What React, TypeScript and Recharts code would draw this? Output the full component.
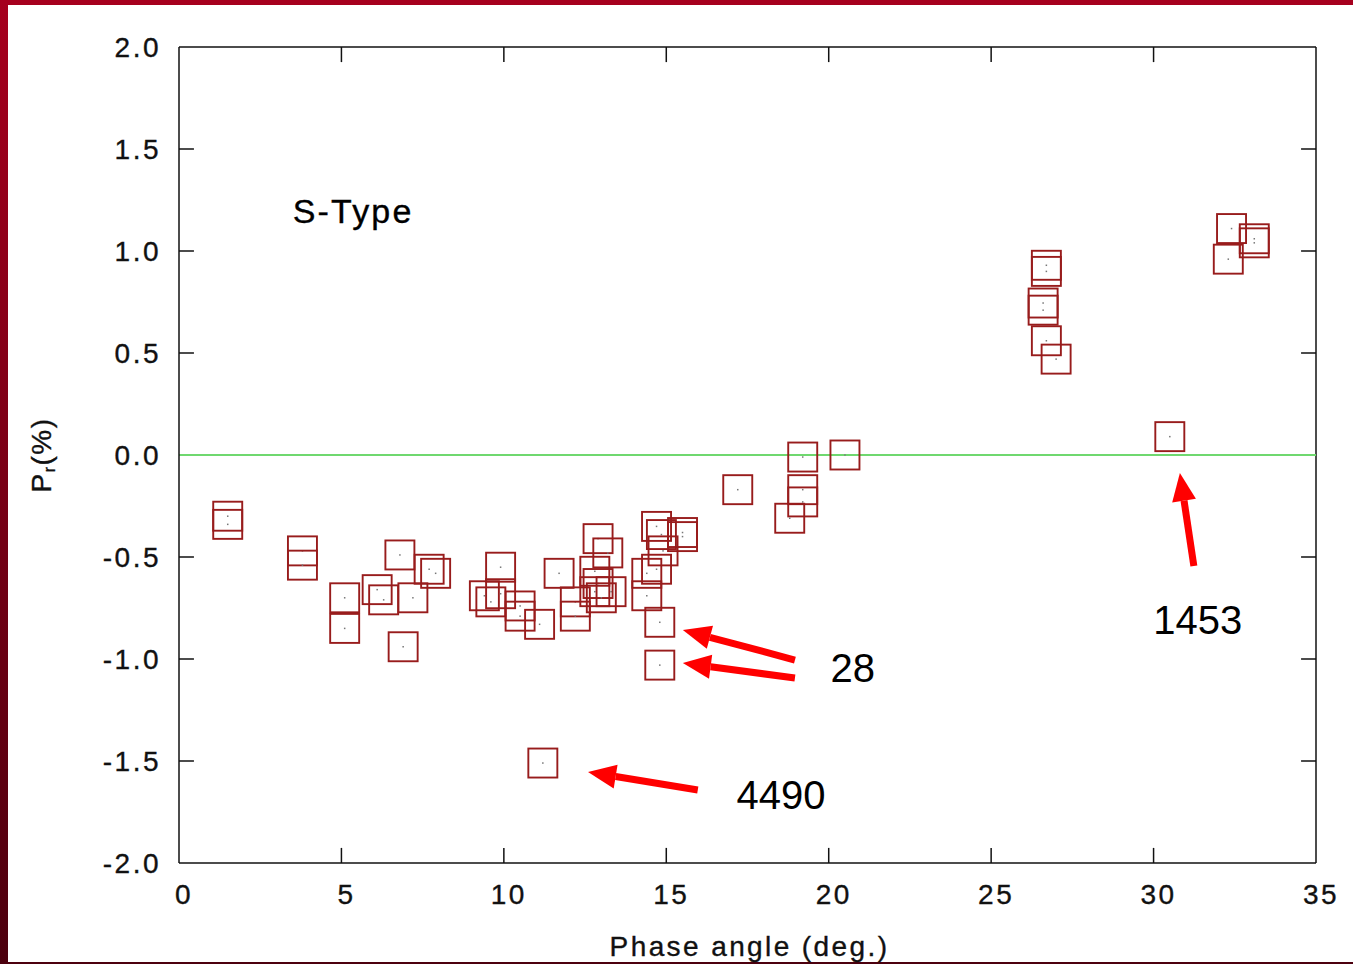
import React from 'react';
import {
  ScatterChart,
  Scatter,
  XAxis,
  YAxis,
  ReferenceLine,
  ReferenceDot,
} from 'recharts';

// S-type asteroids: phase angle (deg) vs Pr (%)
const phaseAngle = [
  1.5, 1.5, 3.8, 3.8, 5.1, 5.1, 6.8, 6.1, 6.3, 7.2, 6.9, 7.7, 7.9,
  9.4, 9.6, 9.9, 9.9, 10.5, 10.5, 11.1, 11.7, 12.2, 12.2,
  12.9, 13.2, 12.8, 12.8, 13.3, 12.9, 13.0, 14.4, 14.4,
  14.7, 14.85, 15.5, 15.5, 14.7, 14.9, 14.8, 14.8, 11.2,
  17.2, 19.2, 20.5, 19.2, 19.2, 18.8,
  26.7, 26.7, 26.6, 26.6, 26.7, 27.0,
  32.4, 32.3, 33.1, 33.1, 30.5,
];
const polarization = [
  -0.3, -0.34, -0.47, -0.54, -0.7, -0.85, -0.49, -0.66, -0.71, -0.7, -0.94, -0.56, -0.58,
  -0.69, -0.72, -0.68, -0.55, -0.74, -0.79, -0.83, -0.58, -0.72, -0.79,
  -0.41, -0.48, -0.57, -0.67, -0.67, -0.63, -0.7, -0.58, -0.69,
  -0.35, -0.39, -0.4, -0.38, -0.56, -0.47, -0.82, -1.03, -1.51,
  -0.17, -0.01, 0.0, -0.17, -0.23, -0.31,
  0.93, 0.9, 0.745, 0.71, 0.56, 0.47,
  1.11, 0.96, 1.06, 1.04, 0.09,
];

const xTicks = [0, 5, 10, 15, 20, 25, 30, 35];
const yTicks = [-2.0, -1.5, -1.0, -0.5, 0.0, 0.5, 1.0, 1.5, 2.0];

// annotations: arrow tail -> head, plus label text and position
const arrowTails = [
  { x: 18.96, y: -1.005 },
  { x: 18.96, y: -1.093 },
  { x: 15.97, y: -1.642 },
  { x: 31.24, y: -0.544 },
];
const arrowHeads = [
  { x: 15.51, y: -0.858 },
  { x: 15.51, y: -1.02 },
  { x: 12.59, y: -1.554 },
  { x: 30.81, y: -0.088 },
];
const labelText = ['28', '4490', '1453'];
const labelX = [20.74, 18.53, 31.36];
const labelY = [-1.044, -1.667, -0.809];

const data = phaseAngle.map((x, i) => ({ x, y: polarization[i] }));

const X_MIN = 0;
const X_MAX = 35;
const Y_MIN = -2;
const Y_MAX = 2;
// inner tick length in data units (~15px)
const X_TICK_LEN = 0.46;
const Y_TICK_LEN = 0.074;

const BOX = '#981c1c';
const FRAME = '#111';
const FONT = 'Liberation Sans';
const tickFont = {
  fontFamily: FONT,
  fontSize: 28,
  fill: '#111',
  stroke: '#111',
  strokeWidth: 0.35,
  letterSpacing: 2.5,
};

function SquareMarker(props: any) {
  const { cx, cy } = props;
  if (cx == null || cy == null) return null;
  return (
    <g>
      <rect x={cx - 14.5} y={cy - 14.5} width={29} height={29} fill="none" stroke={BOX} strokeWidth={1.9} />
      <rect x={cx - 0.75} y={cy - 0.75} width={1.5} height={1.5} fill="#777" />
    </g>
  );
}

function Arrow(props: any) {
  const { x1, y1, x2, y2 } = props;
  if (x1 == null) return null;
  const dx = x2 - x1;
  const dy = y2 - y1;
  const len = Math.sqrt(dx * dx + dy * dy);
  const ux = dx / len;
  const uy = dy / len;
  const headLen = 28;
  const headW = 12;
  const bx = x2 - ux * headLen;
  const by = y2 - uy * headLen;
  return (
    <g>
      <line x1={x1} y1={y1} x2={bx} y2={by} stroke="#ff0000" strokeWidth={7} />
      <polygon
        points={`${x2},${y2} ${bx - uy * headW},${by + ux * headW} ${bx + uy * headW},${by - ux * headW}`}
        fill="#ff0000"
      />
    </g>
  );
}

function LabelText(text: string, size: number, spacing: number, heavy = false) {
  return (props: any) => {
    const { cx, cy } = props;
    if (cx == null) return null;
    return (
      <text
        x={cx}
        y={cy}
        textAnchor="middle"
        dominantBaseline="central"
        fontFamily={FONT}
        fontSize={size}
        letterSpacing={spacing}
        fill="#000"
        stroke={heavy ? '#000' : 'none'}
        strokeWidth={heavy ? 0.35 : 0}
      >
        {text}
      </text>
    );
  };
}

function YTitle(props: any) {
  const vb = props.viewBox;
  const cx = vb.x - 38;
  const cy = vb.y + vb.height / 2;
  return (
    <text
      x={cx}
      y={cy}
      transform={`rotate(-90 ${cx} ${cy})`}
      textAnchor="middle"
      dominantBaseline="central"
      fontFamily={FONT}
      fontSize={28}
      fill="#111"
      stroke="#111"
      strokeWidth={0.35}
      letterSpacing={1.5}
    >
      P<tspan fontSize={16} dy={8}>r</tspan><tspan dy={-8}>(%)</tspan>
    </text>
  );
}

function XTitle(props: any) {
  const vb = props.viewBox;
  return (
    <text
      x={vb.x + vb.width / 2 + 2}
      y={vb.y + 93}
      textAnchor="middle"
      fontFamily={FONT}
      fontSize={28}
      fill="#111"
      stroke="#111"
      strokeWidth={0.35}
      letterSpacing={2.4}
    >
      Phase angle (deg.)
    </text>
  );
}

export default function App() {
  return (
    <div
      style={{
        position: 'fixed',
        left: 0,
        top: 0,
        width: 1353,
        height: 964,
        background: 'linear-gradient(to bottom, #a6001e, #4c000e)',
        overflow: 'hidden',
      }}
    >
      <div style={{ position: 'absolute', left: 8, top: 5, right: 0, bottom: 2, background: '#fff' }} />
      <div style={{ position: 'absolute', left: 0, top: 0 }}>
        <ScatterChart width={1353} height={964} margin={{ top: 47, right: 37, left: 79, bottom: 41 }}>
          <XAxis
            type="number"
            dataKey="x"
            domain={[X_MIN, X_MAX]}
            ticks={xTicks}
            allowDataOverflow
            height={60}
            tickSize={0}
            tickMargin={21}
            tickLine={false}
            axisLine={{ stroke: FRAME, strokeWidth: 1.5 }}
            tick={{ ...tickFont, dx: 5 }}
            label={<XTitle />}
          />
          <YAxis
            type="number"
            dataKey="y"
            domain={[Y_MIN, Y_MAX]}
            ticks={yTicks}
            allowDataOverflow
            width={100}
            tickSize={0}
            tickMargin={18}
            tickLine={false}
            axisLine={{ stroke: FRAME, strokeWidth: 1.5 }}
            tick={tickFont}
            tickFormatter={(v: number) => v.toFixed(1)}
            label={<YTitle />}
          />
          {/* top and right frame */}
          <ReferenceLine y={Y_MAX} stroke={FRAME} strokeWidth={1.5} />
          <ReferenceLine x={X_MAX} stroke={FRAME} strokeWidth={1.5} />
          {/* inward ticks on all four sides */}
          {xTicks.slice(1, -1).map((t) => (
            <ReferenceLine key={`xb-${t}`} segment={[{ x: t, y: Y_MIN }, { x: t, y: Y_MIN + Y_TICK_LEN }]} stroke={FRAME} strokeWidth={1.5} />
          ))}
          {xTicks.slice(1, -1).map((t) => (
            <ReferenceLine key={`xt-${t}`} segment={[{ x: t, y: Y_MAX }, { x: t, y: Y_MAX - Y_TICK_LEN }]} stroke={FRAME} strokeWidth={1.5} />
          ))}
          {yTicks.slice(1, -1).map((t) => (
            <ReferenceLine key={`yl-${t}`} segment={[{ x: X_MIN, y: t }, { x: X_MIN + X_TICK_LEN, y: t }]} stroke={FRAME} strokeWidth={1.5} />
          ))}
          {yTicks.slice(1, -1).map((t) => (
            <ReferenceLine key={`yr-${t}`} segment={[{ x: X_MAX, y: t }, { x: X_MAX - X_TICK_LEN, y: t }]} stroke={FRAME} strokeWidth={1.5} />
          ))}
          <ReferenceLine y={0} stroke="#6fd86f" strokeWidth={2} />
          <Scatter data={data} shape={<SquareMarker />} isAnimationActive={false} />
          {arrowTails.map((t, i) => (
            <ReferenceLine
              key={`arrow-${i}`}
              segment={[t, arrowHeads[i]]}
              shape={(p: any) => <Arrow {...p} />}
            />
          ))}
          {labelText.map((t, i) => (
            <ReferenceDot
              key={`lbl-${t}`}
              x={labelX[i]}
              y={labelY[i]}
              r={0}
              shape={LabelText(t, 40, 0)}
            />
          ))}
          <ReferenceDot x={5.36} y={1.196} r={0} shape={LabelText('S-Type', 34, 2.2, true)} />
        </ScatterChart>
      </div>
    </div>
  );
}
